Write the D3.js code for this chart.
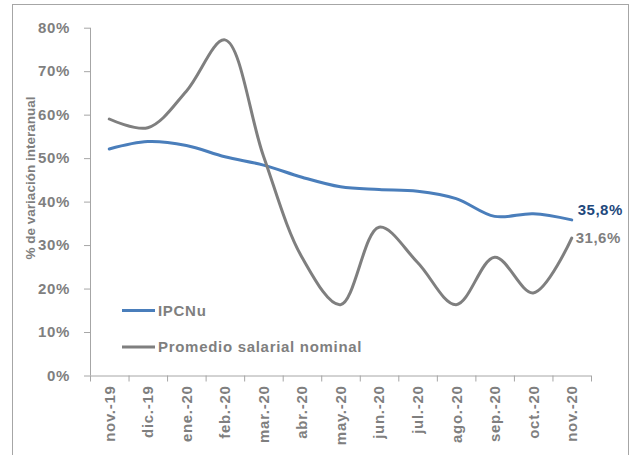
<!DOCTYPE html>
<html>
<head>
<meta charset="utf-8">
<script src="https://cdn.jsdelivr.net/npm/d3@7"></script>
<style>
  html, body { margin: 0; padding: 0; background: #fff; }
  svg { display: block; }
  text { font-family: "Liberation Sans", Arial, sans-serif; font-weight: bold; }
</style>
</head>
<body>
<svg id="chart" width="630" height="455"></svg>
<script>
// Months shown on the horizontal axis
const months = ["nov.-19", "dic.-19", "ene.-20", "feb.-20", "mar.-20", "abr.-20", "may.-20",
                "jun.-20", "jul.-20", "ago.-20", "sep.-20", "oct.-20", "nov.-20"];
// Year-on-year change, in percent
const ipcnu = [52.1, 53.8, 52.9, 50.3, 48.4, 45.6, 43.4, 42.8, 42.4, 40.7, 36.6, 37.2, 35.8];
const salario = [59.0, 57.0, 65.4, 77.2, 50.5, 27.2, 16.3, 34.1, 26.0, 16.3, 27.2, 19.0, 31.6];
const yTicks = [0, 10, 20, 30, 40, 50, 60, 70, 80];
const seriesNames = ["IPCNu", "Promedio salarial nominal"];

const blue = "#4a7ebb", grey = "#7f7f7f", axisGrey = "#a6a6a6", textGrey = "#7f7f7f";
const fontSize = "15px", spacing = "0.7px";
const svg = d3.select("#chart");

// outer frame
svg.append("rect").attr("x", 12.5).attr("y", 4.5).attr("width", 616).attr("height", 470)
  .attr("fill", "none").attr("stroke", "#a6a6a6").attr("stroke-width", 1);

const plotL = 90, plotR = 591, plotT = 27.7, plotB = 375.5;
const x = d3.scaleBand().domain(months).range([plotL, plotR]);
const y = d3.scaleLinear().domain([0, 80]).range([plotB, plotT]);
const cx = d => x(d) + x.bandwidth() / 2;

function styleText(sel) {
  sel.attr("fill", textGrey).style("font-size", fontSize).style("letter-spacing", spacing)
    .style("font-family", "'Liberation Sans', Arial, sans-serif").style("font-weight", "bold");
}

// y axis
const yAxis = svg.append("g").attr("transform", `translate(${plotL},0)`)
  .call(d3.axisLeft(y).tickValues(yTicks).tickSize(6).tickPadding(14).tickFormat(d => d + "%"));
yAxis.select(".domain").attr("stroke", axisGrey).attr("d", `M0.5,${plotT}V${plotB}`);
yAxis.selectAll(".tick line").attr("stroke", axisGrey);
yAxis.selectAll(".tick text").call(styleText);

// x axis
const xAxis = svg.append("g").attr("transform", `translate(0,${plotB})`)
  .call(d3.axisBottom(x).tickSize(0).tickPadding(0));
xAxis.select(".domain").attr("stroke", axisGrey).attr("d", `M${plotL},0.5H${plotR}`);
xAxis.selectAll(".tick text").call(styleText)
  .attr("transform", "rotate(-90)")
  .attr("text-anchor", "end")
  .attr("x", -10).attr("y", 0).attr("dy", "0.36em");
// tick marks at category boundaries
const edges = months.map(m => x(m)).concat([plotR]);
xAxis.selectAll("line.edge").data(edges).enter().append("line")
  .attr("class", "edge").attr("x1", d => d + 0.5).attr("x2", d => d + 0.5)
  .attr("y1", 0).attr("y2", 6).attr("stroke", axisGrey);

// y axis title
svg.append("text")
  .attr("transform", `translate(34.5,178) rotate(-90)`)
  .attr("text-anchor", "middle").attr("fill", textGrey)
  .style("font-size", "13.5px")
  .text("% de variación interanual");

// lines
const line = d3.line().x((d, i) => cx(months[i])).y(d => y(d)).curve(d3.curveCatmullRom.alpha(0.5));
svg.append("path").datum(ipcnu).attr("d", line).attr("fill", "none")
  .attr("stroke", blue).attr("stroke-width", 3).attr("stroke-linecap", "round");
svg.append("path").datum(salario).attr("d", line).attr("fill", "none")
  .attr("stroke", grey).attr("stroke-width", 3).attr("stroke-linecap", "round");

// end labels
const last = months.length - 1;
svg.append("text").attr("x", cx(months[last]) + 6).attr("y", y(ipcnu[last]) - 5)
  .style("font-size", fontSize).style("letter-spacing", "0.5px").attr("fill", "#1f497d")
  .text(d3.format(".1f")(ipcnu[last]).replace(".", ",") + "%");
svg.append("text").attr("x", cx(months[last]) + 4).attr("y", y(salario[last]) + 5)
  .style("font-size", fontSize).style("letter-spacing", "0.5px").attr("fill", grey)
  .text(d3.format(".1f")(salario[last]).replace(".", ",") + "%");

// legend
const legend = svg.append("g");
[[blue, 310.5], [grey, 347]].forEach(([c, ly], i) => {
  legend.append("line").attr("x1", 122).attr("x2", 155).attr("y1", ly).attr("y2", ly)
    .attr("stroke", c).attr("stroke-width", 3);
  legend.append("text").attr("x", 158).attr("y", ly).attr("dy", "0.36em")
    .call(styleText).text(seriesNames[i]);
});
</script>
</body>
</html>
